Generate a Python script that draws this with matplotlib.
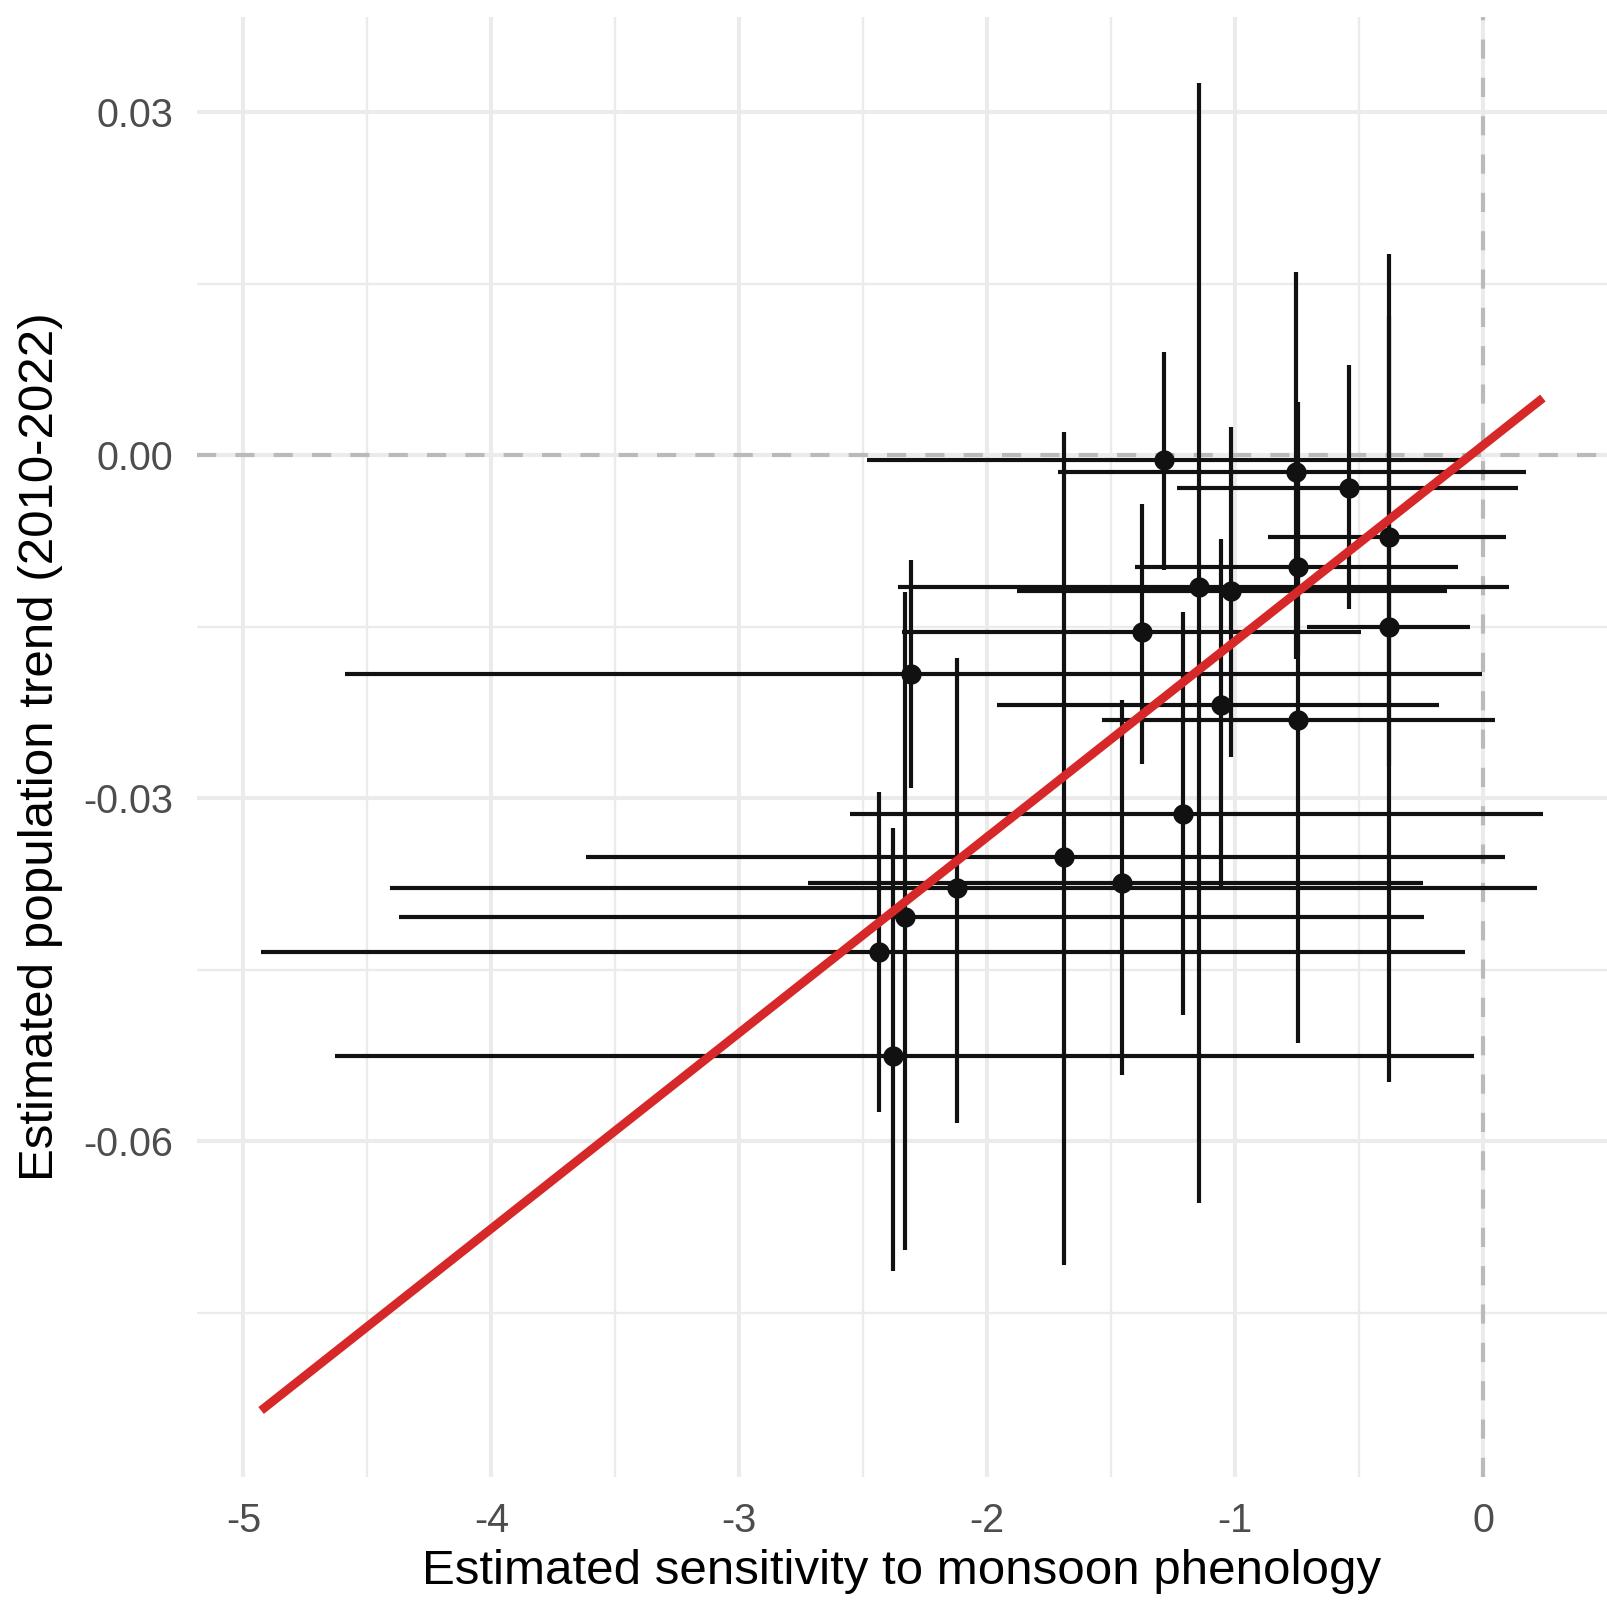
import numpy as np
import matplotlib
matplotlib.use("Agg")
import matplotlib.pyplot as plt

plt.rcParams["font.family"] = ["Liberation Sans", "DejaVu Sans"]
plt.rcParams["axes.unicode_minus"] = False

# --- Data ---
# sensitivity estimate with its interval
sens = [-1.288, -0.755, -0.540, -0.379, -0.746, -1.146, -1.017, -1.377, -0.379, -2.306,
        -1.059, -0.746, -1.212, -1.689, -1.458, -2.123, -2.332, -2.437, -2.381]
sens_lo = [-2.484, -1.716, -1.234, -0.867, -1.406, -2.359, -1.881, -2.345, -0.712, -4.591,
           -1.962, -1.536, -2.554, -3.618, -2.725, -4.408, -4.371, -4.929, -4.631]
sens_hi = [-0.087, 0.171, 0.139, 0.094, -0.103, 0.105, -0.145, -0.493, -0.052, -0.006,
           -0.179, 0.046, 0.241, 0.088, -0.244, 0.218, -0.240, -0.074, -0.035]

# population trend estimate with its interval
trend = [-0.00037, -0.00149, -0.00290, -0.00715, -0.00974, -0.01156, -0.01184, -0.01550,
         -0.01502, -0.01913, -0.02181, -0.02315, -0.03139, -0.03513, -0.03744, -0.03789,
         -0.04038, -0.04344, -0.05254]
trend_lo = [-0.01003, -0.01784, -0.01347, -0.02718, -0.01747, -0.06542, -0.02641, -0.02703,
            -0.05484, -0.02913, -0.03773, -0.05138, -0.04893, -0.07082, -0.05423, -0.05843,
            -0.06951, -0.05741, -0.07132]
trend_hi = [0.00901, 0.01601, 0.00787, 0.01218, -0.00199, 0.03254, 0.00250, -0.00429,
            0.01758, -0.00913, -0.00732, 0.00469, -0.01373, 0.00206, -0.02140, -0.01776,
            -0.01193, -0.02942, -0.03257]

x_ticks = [-5, -4, -3, -2, -1, 0]
x_tick_labels = ["-5", "-4", "-3", "-2", "-1", "0"]
y_ticks = [-0.06, -0.03, 0.00, 0.03]
y_tick_labels = ["-0.06", "-0.03", "0.00", "0.03"]

x = np.array(sens)
y = np.array(trend)

# --- Figure ---
W, H = 1607, 1600
fig = plt.figure(figsize=(W / 100, H / 100), dpi=100)
ax = fig.add_axes([197 / W, 1 - 1476.7 / H, (W - 197) / W, (1476.7 - 16.7) / H])

ax.set_xlim(-5.1875, 0.4995)
ax.set_ylim(-0.08934, 0.03836)

# grid, theme_minimal style
grid_col = "#EBEBEB"
ax.set_xticks(x_ticks)
ax.set_xticklabels(x_tick_labels)
ax.set_yticks(y_ticks)
ax.set_yticklabels(y_tick_labels)
ax.set_xticks([-4.5, -3.5, -2.5, -1.5, -0.5], minor=True)
ax.set_yticks([-0.075, -0.045, -0.015, 0.015], minor=True)
ax.grid(which="major", color=grid_col, linewidth=2.9, zorder=0)
ax.grid(which="minor", color=grid_col, linewidth=1.7, zorder=0)
ax.set_axisbelow(True)
for s in ax.spines.values():
    s.set_visible(False)
ax.tick_params(which="both", length=0)
ax.tick_params(axis="x", pad=18, labelsize=28.5, labelcolor="#4D4D4D")
ax.tick_params(axis="y", pad=17, labelsize=28.5, labelcolor="#4D4D4D")

# reference lines at zero
ax.axhline(0, color="#BABABA", linewidth=3.0, dashes=(4.6, 4.6), zorder=1)
ax.axvline(0, color="#BABABA", linewidth=3.0, dashes=(4.6, 4.6), zorder=1)

# error bars both ways
xerr = [x - np.array(sens_lo), np.array(sens_hi) - x]
yerr = [y - np.array(trend_lo), np.array(trend_hi) - y]
ax.errorbar(x, y, xerr=xerr, yerr=yerr, fmt="none", ecolor="#111111",
            elinewidth=3.0, capsize=0, zorder=2)
ax.plot(x, y, "o", color="#111111", markersize=14.6, markeredgewidth=0, zorder=3)

# linear fit over full x range
slope, intercept = np.polyfit(x, y, 1)
fx = np.array([min(sens_lo), max(sens_hi)])
ax.plot(fx, intercept + slope * fx, color="#D62828", linewidth=6.3,
        solid_capstyle="butt", zorder=4)

# axis titles
fig.text(902 / W, 1 - 1584 / H, "Estimated sensitivity to monsoon phenology",
         ha="center", va="baseline", fontsize=35.5, color="black")
fig.text(18 / W, 1 - 747 / H, "Estimated population trend (2010-2022)",
         ha="left", va="center", rotation=90, fontsize=35.5, color="black")

fig.savefig("out.png", dpi=100)
